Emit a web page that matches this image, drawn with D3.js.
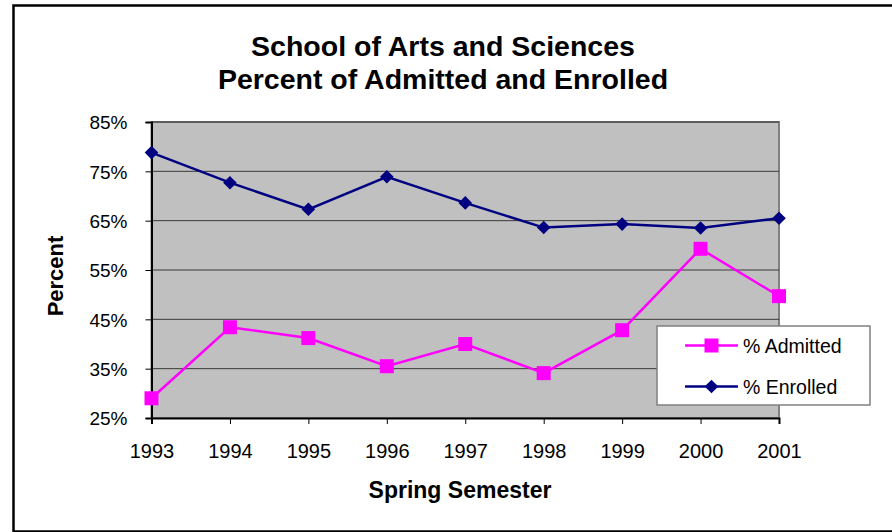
<!DOCTYPE html>
<html>
<head>
<meta charset="utf-8">
<script src="https://cdn.jsdelivr.net/npm/d3@7"></script>
<style>
	body { margin: 0; background: #fff; }
	text { font-family: "Liberation Sans", Arial, sans-serif; fill: #000; }
</style>
</head>
<body>
<script>
// data
const years = ["1993", "1994", "1995", "1996", "1997", "1998", "1999", "2000", "2001"];
const admitted = [29.0, 43.4, 41.2, 35.5, 40.0, 34.1, 42.8, 59.3, 49.7];
const enrolled = [78.8, 72.7, 67.3, 73.9, 68.6, 63.6, 64.3, 63.5, 65.5];
const yTicks = [25, 35, 45, 55, 65, 75, 85];

const W = 892, H = 532;
const plot = { left: 151.5, right: 779, top: 122, bottom: 418 };

const svg = d3.select('body').append('svg')
	.attr('width', W)
	.attr('height', H);

// outer frame (runs off the right edge like the original)
svg.append('rect')
	.attr('x', 13.5).attr('y', 5.5)
	.attr('width', 900).attr('height', 526)
	.attr('fill', '#fff')
	.attr('stroke', '#000')
	.attr('stroke-width', 2.5);

const x = d3.scalePoint().domain(years).range([plot.left, plot.right]);
const y = d3.scaleLinear().domain([25, 85]).range([plot.bottom, plot.top]);

/* plot area */
svg.append('rect')
	.attr('x', plot.left).attr('y', plot.top)
	.attr('width', plot.right - plot.left)
	.attr('height', plot.bottom - plot.top)
	.attr('fill', '#c0c0c0')
	.attr('stroke', '#808080')
	.attr('stroke-width', 2);

// gridlines
svg.append('g')
	.selectAll('line')
	.data(yTicks.slice(1))
	.enter().append('line')
	.attr('x1', plot.left).attr('x2', plot.right)
	.attr('y1', d => y(d)).attr('y2', d => y(d))
	.attr('stroke', '#3a3a3a')
	.attr('stroke-width', 1);

// y axis
const yAxis = svg.append('g')
	.attr('transform', `translate(${plot.left},0)`)
	.call(d3.axisLeft(y).tickValues(yTicks).tickSize(6).tickPadding(18).tickFormat(d => d + '%'));
yAxis.select('.domain').attr('stroke', '#000').attr('stroke-width', 2);
yAxis.selectAll('.tick line').attr('stroke', '#000');
yAxis.selectAll('.tick text')
	.style('font-size', '19px')
	.attr('font-family', null)
	.attr('dy', '0.36em');

// x axis
const xAxis = svg.append('g')
	.attr('transform', `translate(0,${plot.bottom})`)
	.call(d3.axisBottom(x).tickSize(6).tickPadding(20));
xAxis.select('.domain').attr('stroke', '#000').attr('stroke-width', 2);
xAxis.selectAll('.tick line').attr('stroke', '#000');
xAxis.selectAll('.tick text')
	.style('font-size', '20px')
	.attr('font-family', null);

/* series */
const line = d3.line().x((d, i) => x(years[i])).y(d => y(d));

svg.append('path')
	.datum(enrolled)
	.attr('fill', 'none')
	.attr('stroke', '#000080')
	.attr('stroke-width', 2.5)
	.attr('d', line);

svg.append('path')
	.datum(admitted)
	.attr('fill', 'none')
	.attr('stroke', '#ff00ff')
	.attr('stroke-width', 2.5)
	.attr('d', line);

const diamond = s => `M0,${-s}L${s},0L0,${s}L${-s},0Z`;

svg.append('g')
	.selectAll('path')
	.data(enrolled)
	.enter().append('path')
	.attr('d', diamond(6.8))
	.attr('transform', (d, i) => `translate(${x(years[i])},${y(d)})`)
	.attr('fill', '#000080');

svg.append('g')
	.selectAll('rect')
	.data(admitted)
	.enter().append('rect')
	.attr('x', (d, i) => x(years[i]) - 7)
	.attr('y', d => y(d) - 7)
	.attr('width', 14).attr('height', 14)
	.attr('fill', '#ff00ff');

/* titles */
svg.append('text')
	.attr('x', 443).attr('y', 56)
	.attr('text-anchor', 'middle')
	.style('font-size', '28.5px').style('font-weight', 'bold')
	.text('School of Arts and Sciences');
svg.append('text')
	.attr('x', 443).attr('y', 89)
	.attr('text-anchor', 'middle')
	.style('font-size', '28.5px').style('font-weight', 'bold')
	.text('Percent of Admitted and Enrolled');

svg.append('text')
	.attr('x', 460).attr('y', 498)
	.attr('text-anchor', 'middle')
	.style('font-size', '23px').style('font-weight', 'bold')
	.text('Spring Semester');

svg.append('text')
	.attr('transform', 'translate(63,276) rotate(-90)')
	.attr('text-anchor', 'middle')
	.style('font-size', '22px').style('font-weight', 'bold')
	.text('Percent');

/* legend */
const legend = svg.append('g').attr('transform', 'translate(657,326)');
legend.append('rect')
	.attr('width', 213).attr('height', 79)
	.attr('fill', '#fff')
	.attr('stroke', '#808080')
	.attr('stroke-width', 1.5);

const legendItems = legend.selectAll('g')
	.data([
		{ name: '% Admitted', color: '#ff00ff', shape: 'square' },
		{ name: '% Enrolled', color: '#000080', shape: 'diamond' }
	])
	.enter().append('g')
	.attr('transform', (d, i) => `translate(0,${19.5 + i * 41})`);

legendItems.append('line')
	.attr('x1', 28).attr('x2', 81)
	.attr('stroke', d => d.color)
	.attr('stroke-width', 2.5);
legendItems.append('path')
	.attr('d', d => d.shape === 'square' ? 'M-7,-7H7V7H-7Z' : diamond(6.8))
	.attr('transform', 'translate(54.5,0)')
	.attr('fill', d => d.color);
legendItems.append('text')
	.attr('x', 86).attr('y', 7)
	.style('font-size', '19.5px')
	.text(d => d.name);
</script>
</body>
</html>
